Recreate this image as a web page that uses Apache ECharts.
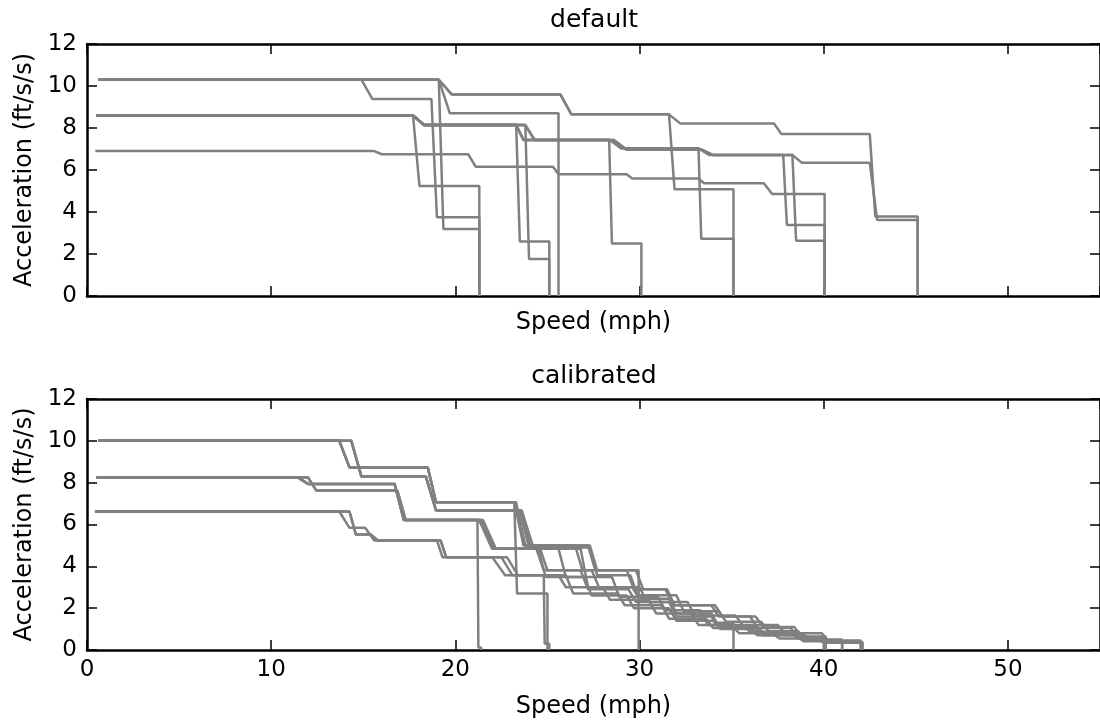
<!DOCTYPE html>
<html>
<head>
<meta charset="utf-8">
<script src="https://cdn.jsdelivr.net/npm/echarts@6/dist/echarts.min.js"></script>
<style>
  html, body { margin: 0; padding: 0; background: #fff; }
  #chart { width: 1100px; height: 725px; }
</style>
</head>
<body>
<div id="chart"></div>
<script>
// axis ticks
var speedTicks = [0, 10, 20, 30, 40, 50]
var speedMax = 55
var accelTicks = [0, 2, 4, 6, 8, 10, 12]

// default model: [speed, acceleration] points of each run
var defA = [[0.6, 10.3], [14.9, 10.3], [15.5, 9.38], [18.7, 9.38], [19.0, 3.75], [21.3, 3.75], [21.3, 0]]
var defB1 = [[0.6, 10.3], [19.1, 10.3], [19.8, 9.6], [25.7, 9.6], [26.3, 8.65], [31.6, 8.65], [32.2, 8.22], [37.3, 8.22], [37.7, 7.71], [42.5, 7.71], [42.8, 3.78], [45.1, 3.78], [45.1, 0]]
var defB2 = [[0.6, 10.3], [19.1, 10.3], [19.8, 9.6], [25.7, 9.6], [26.3, 8.65], [31.6, 8.65], [31.9, 5.08], [35.1, 5.08], [35.1, 0]]
var defC = [[0.6, 10.3], [19.1, 10.3], [19.7, 8.7], [25.6, 8.7], [25.6, 0]]
var defD = [[0.6, 10.3], [19.1, 10.3], [19.35, 3.19], [21.3, 3.19], [21.3, 0]]
var defE = [[0.5, 8.6], [17.7, 8.6], [18.3, 8.14], [23.3, 8.14], [23.5, 2.59], [25.1, 2.59], [25.1, 0]]
var defF = [[0.5, 8.6], [17.7, 8.6], [18.05, 5.24], [21.3, 5.24], [21.3, 0]]
var defG = [[0.5, 8.6], [17.7, 8.6], [18.3, 8.14], [23.8, 8.14], [24.0, 1.76], [25.1, 1.76], [25.1, 0]]
var defH = [[0.5, 8.6], [17.7, 8.6], [18.3, 8.14], [23.3, 8.14], [23.7, 7.43], [28.35, 7.43], [28.5, 2.5], [30.1, 2.5], [30.1, 0]]
var defI = [[0.5, 8.6], [17.7, 8.6], [18.3, 8.14], [23.3, 8.14], [23.7, 7.43], [28.4, 7.43], [29.0, 7.03], [33.2, 7.03], [33.35, 2.73], [35.1, 2.73], [35.1, 0]]
var defJ = [[0.5, 8.6], [17.7, 8.6], [18.3, 8.14], [23.3, 8.14], [23.7, 7.43], [28.4, 7.43], [29.0, 7.03], [33.2, 7.03], [33.8, 6.71], [37.8, 6.71], [38.0, 3.38], [40.05, 3.38], [40.05, 0]]
var defK = [[0.5, 8.6], [17.7, 8.6], [18.3, 8.14], [23.8, 8.14], [24.3, 7.43], [28.6, 7.43], [29.3, 6.96], [33.4, 6.96], [34.0, 6.71], [38.3, 6.71], [38.5, 2.63], [40.05, 2.63], [40.05, 0]]
var defL = [[0.5, 8.6], [17.7, 8.6], [18.3, 8.14], [23.8, 8.14], [24.3, 7.43], [28.6, 7.43], [29.3, 6.96], [33.4, 6.96], [34.0, 6.71], [38.3, 6.71], [38.8, 6.35], [42.5, 6.35], [42.9, 3.62], [45.1, 3.62], [45.1, 0]]
var defM = [[0.45, 6.9], [15.6, 6.9], [16.0, 6.75], [20.7, 6.75], [21.1, 6.16], [25.3, 6.16], [25.6, 5.8], [29.3, 5.8], [29.6, 5.6], [33.2, 5.6], [33.5, 5.37], [36.75, 5.37], [37.2, 4.86], [40.05, 4.86], [40.05, 0]]

// calibrated model
var calA = [[0.6, 10.0], [13.7, 10.0], [14.25, 8.73], [18.5, 8.73], [18.95, 7.06], [23.2, 7.06], [23.35, 2.7], [25.0, 2.7], [25.0, 0]]
var calB = [[0.6, 10.0], [13.7, 10.0], [14.25, 8.73], [18.5, 8.73], [18.95, 7.06], [23.2, 7.06], [23.7, 5.0], [27.3, 5.0], [27.7, 3.81], [29.95, 3.81], [29.95, 0]]
var calC = [[0.6, 10.0], [13.7, 10.0], [14.25, 8.73], [18.5, 8.73], [18.95, 7.06], [23.3, 7.06], [23.8, 5.0], [26.5, 5.0], [26.9, 3.81], [29.3, 3.81], [29.7, 2.9], [31.4, 2.9], [31.8, 2.14], [33.9, 2.14], [34.3, 1.6], [36.0, 1.6], [36.4, 1.05], [38.2, 1.05], [38.6, 0.62], [40.1, 0.62], [40.1, 0]]
var calD = [[0.6, 10.0], [14.35, 10.0], [14.9, 8.29], [18.4, 8.29], [18.95, 6.67], [23.5, 6.67], [24.0, 4.9], [27.3, 4.9], [27.7, 3.57], [29.5, 3.57], [29.9, 2.62], [32.0, 2.62], [32.4, 1.85], [34.3, 1.85], [34.7, 1.35], [36.6, 1.35], [37.0, 0.9], [38.6, 0.9], [39.0, 0.5], [41.0, 0.5], [41.0, 0]]
var calE = [[0.6, 10.0], [14.35, 10.0], [14.9, 8.29], [18.4, 8.29], [18.95, 6.67], [23.6, 6.67], [24.1, 4.84], [26.8, 4.84], [27.2, 3.0], [29.6, 3.0], [30.0, 2.45], [31.6, 2.45], [32.0, 1.75], [33.9, 1.75], [34.2, 1.3], [35.1, 1.3], [35.1, 0]]
var calF = [[0.5, 8.25], [11.45, 8.25], [12.0, 7.94], [16.7, 7.94], [17.2, 6.22], [21.2, 6.22], [21.25, 0.12], [21.4, 0.12], [21.4, 0]]
var calG = [[0.5, 8.25], [11.45, 8.25], [12.0, 7.94], [16.7, 7.94], [17.2, 6.22], [21.3, 6.22], [22.0, 4.84], [24.5, 4.84], [24.9, 3.49], [27.0, 3.49], [27.4, 2.6], [29.3, 2.6], [29.7, 2.0], [31.6, 2.0], [32.0, 1.4], [34.0, 1.4], [34.4, 1.0], [36.3, 1.0], [36.7, 0.7], [38.5, 0.7], [38.9, 0.45], [40.1, 0.45], [40.1, 0]]
var calH = [[0.5, 8.25], [12.0, 8.25], [12.45, 7.62], [16.85, 7.62], [17.3, 6.22], [21.4, 6.22], [22.1, 4.84], [24.6, 4.84], [25.0, 3.81], [27.4, 3.81], [27.8, 3.0], [30.0, 3.0], [30.4, 2.3], [32.6, 2.3], [33.0, 1.65], [35.2, 1.65], [35.6, 1.2], [37.5, 1.2], [37.9, 0.8], [39.9, 0.8], [40.3, 0.38], [42.1, 0.38], [42.1, 0]]
var calI = [[0.5, 8.25], [12.0, 8.25], [12.45, 7.62], [16.85, 7.62], [17.3, 6.22], [21.5, 6.22], [22.2, 4.84], [25.6, 4.84], [26.0, 3.49], [28.5, 3.49], [28.9, 2.55], [31.0, 2.55], [31.4, 1.9], [33.3, 1.9], [33.7, 1.2], [35.6, 1.2], [36.0, 0.87], [38.2, 0.87], [38.6, 0.55], [40.0, 0.55], [40.0, 0]]
var calJ = [[0.43, 6.62], [13.7, 6.62], [14.25, 5.84], [15.1, 5.84], [15.6, 5.24], [19.0, 5.24], [19.3, 4.44], [22.0, 4.44], [22.7, 3.57], [24.8, 3.57], [24.85, 0.3], [25.1, 0.3], [25.1, 0]]
var calK = [[0.43, 6.62], [14.25, 6.62], [14.6, 5.52], [15.4, 5.52], [15.8, 5.24], [19.2, 5.24], [19.5, 4.44], [22.5, 4.44], [23.1, 3.57], [25.6, 3.57], [26.0, 3.0], [28.0, 3.0], [28.4, 2.4], [30.5, 2.4], [30.9, 1.75], [32.8, 1.75], [33.2, 1.2], [35.0, 1.2], [35.4, 0.8], [37.2, 0.8], [37.6, 0.55], [39.6, 0.55], [40.0, 0.35], [42.1, 0.35], [42.1, 0]]
var calL = [[0.43, 6.62], [14.25, 6.62], [14.6, 5.52], [15.4, 5.52], [15.8, 5.24], [19.2, 5.24], [19.5, 4.44], [22.8, 4.44], [23.4, 3.57], [26.0, 3.57], [26.4, 2.7], [28.8, 2.7], [29.2, 2.14], [31.2, 2.14], [31.6, 1.5], [33.6, 1.5], [34.0, 1.05], [36.0, 1.05], [36.4, 0.7], [38.5, 0.7], [38.9, 0.42], [41.0, 0.42], [41.0, 0]]
var calM = [[0.6, 10.0], [14.35, 10.0], [14.9, 8.29], [18.4, 8.29], [18.95, 6.67], [23.6, 6.67], [24.2, 5.0], [27.2, 5.0], [27.6, 3.81], [29.8, 3.81], [30.2, 2.9], [31.5, 2.9], [31.9, 2.14], [34.1, 2.14], [34.5, 1.6], [36.3, 1.6], [36.7, 1.1], [38.4, 1.1], [38.8, 0.65], [40.1, 0.65], [40.1, 0]]
var calN = [[0.5, 8.25], [11.45, 8.25], [12.0, 7.94], [16.7, 7.94], [17.2, 6.22], [21.3, 6.22], [22.0, 4.84], [24.4, 4.84], [24.8, 3.81], [26.8, 3.81], [27.2, 2.9], [29.4, 2.9], [29.8, 2.3], [31.6, 2.3], [32.0, 1.6], [33.9, 1.6], [34.3, 1.1], [36.4, 1.1], [36.8, 0.75], [38.9, 0.75], [39.3, 0.45], [42.0, 0.45], [42.0, 0]]

var defaultRuns = [defA, defB1, defB2, defC, defD, defE, defF, defG, defH, defI, defJ, defK, defL, defM]
var calibratedRuns = [calA, calB, calC, calD, calE, calF, calG, calH, calI, calJ, calK, calL, calM, calN]

var font = 'DejaVu Sans'
var ink = '#000'

function xAxis (grid, pos, labels, nameGap) {
  return {
    type: 'value',
    gridIndex: grid,
    position: pos,
    min: speedTicks[0],
    max: speedMax,
    interval: speedTicks[1] - speedTicks[0],
    axisLine: { show: true, onZero: false, lineStyle: { color: ink, width: 2.5 } },
    axisTick: { show: true, inside: true, length: 10, lineStyle: { color: ink, width: 1.5 } },
    axisLabel: { show: labels, showMaxLabel: false, margin: 9, color: ink, fontSize: 23, fontFamily: font },
    splitLine: { show: false },
    name: pos === 'bottom' ? 'Speed (mph)' : '',
    nameLocation: 'middle',
    nameGap: nameGap,
    nameTextStyle: { color: ink, fontSize: 24, fontFamily: font }
  }
}

function yAxis (grid, pos) {
  var left = pos === 'left'
  return {
    type: 'value',
    gridIndex: grid,
    position: pos,
    min: accelTicks[0],
    max: accelTicks[accelTicks.length - 1],
    interval: accelTicks[1] - accelTicks[0],
    axisLine: { show: true, onZero: false, lineStyle: { color: ink, width: 2.5 } },
    axisTick: { show: true, inside: true, length: 10, lineStyle: { color: ink, width: 1.5 } },
    axisLabel: { show: left, margin: 10, color: ink, fontSize: 23, fontFamily: font },
    splitLine: { show: false },
    name: left ? 'Acceleration (ft/s/s)' : '',
    nameLocation: 'middle',
    nameRotate: 90,
    nameGap: 46,
    nameTextStyle: { color: ink, fontSize: 24, fontFamily: font }
  }
}

function runSeries (runs, grid) {
  return runs.map(function (pts) {
    return {
      type: 'line',
      xAxisIndex: grid * 2,
      yAxisIndex: grid * 2,
      data: pts,
      symbol: 'none',
      silent: true,
      lineStyle: { color: '#808080', width: 2.5 }
    }
  })
}

var chart = echarts.init(document.getElementById('chart'))
chart.setOption({
  animation: false,
  backgroundColor: '#fff',
  title: [
    { text: 'default', left: 594, top: 8, textAlign: 'center', padding: 0,
      textStyle: { color: ink, fontSize: 25, fontWeight: 'normal', fontFamily: font } },
    { text: 'calibrated', left: 594, top: 364, textAlign: 'center', padding: 0,
      textStyle: { color: ink, fontSize: 25, fontWeight: 'normal', fontFamily: font } }
  ],
  grid: [
    { left: 87, top: 44, width: 1015, height: 252 },
    { left: 87, top: 399, width: 1015, height: 251 }
  ],
  xAxis: [
    xAxis(0, 'bottom', false, 15),
    xAxis(0, 'top', false, 0),
    xAxis(1, 'bottom', true, 45),
    xAxis(1, 'top', false, 0)
  ],
  yAxis: [
    yAxis(0, 'left'),
    yAxis(0, 'right'),
    yAxis(1, 'left'),
    yAxis(1, 'right')
  ],
  series: runSeries(defaultRuns, 0).concat(runSeries(calibratedRuns, 1))
})
</script>
</body>
</html>
